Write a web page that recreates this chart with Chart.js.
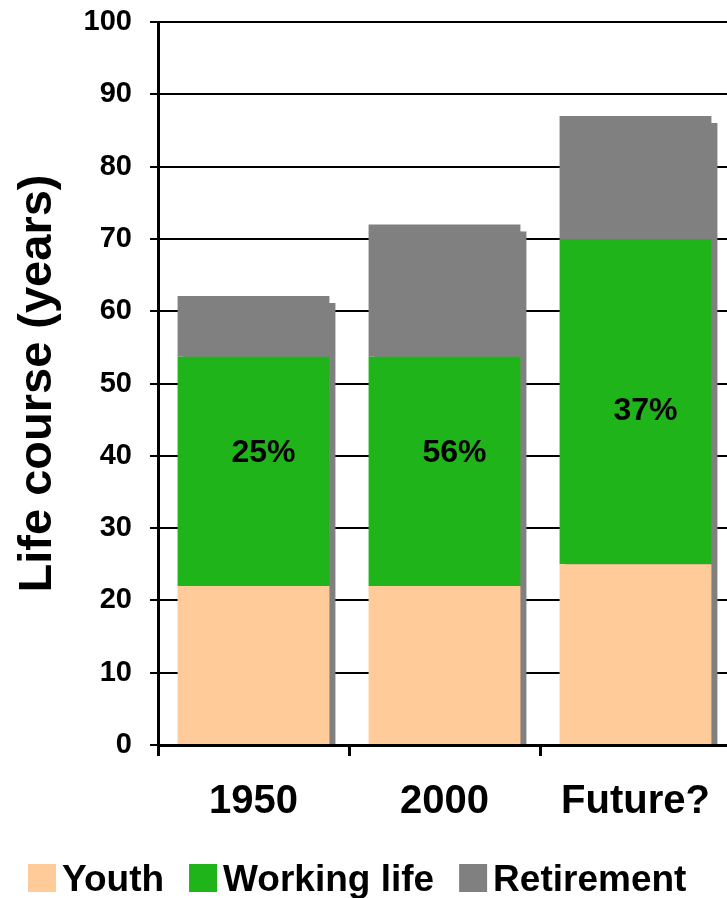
<!DOCTYPE html>
<html>
<head>
<meta charset="utf-8">
<script src="https://cdn.jsdelivr.net/npm/chart.js@4.4.1/dist/chart.umd.min.js"></script>
<style>
  html, body { margin: 0; padding: 0; background: #fff; overflow: hidden; }
  #wrap { position: relative; width: 740px; height: 898px; }
</style>
</head>
<body>
<div id="wrap"><canvas id="lifeCourse"></canvas></div>
<script>
// Life course split into youth, working life and retirement (years)
const periods = ['1950', '2000', 'Future?'];
const youthYears = [22, 22, 25];
const workingYears = [31.7, 31.7, 45];
const retirementYears = [8.4, 18.3, 17];
const retirementShare = ['25%', '56%', '37%'];
const yTicks = [0, 10, 20, 30, 40, 50, 60, 70, 80, 90, 100];

const FONT = "'Liberation Sans', Arial, Helvetica, sans-serif";

// Grey drop shadow behind each stacked column
const barShadow = {
  id: 'barShadow',
  beforeDatasetsDraw(chart, args, opts) {
    const ctx = chart.ctx;
    const topMeta = chart.getDatasetMeta(chart.data.datasets.length - 1);
    const bottomMeta = chart.getDatasetMeta(0);
    ctx.save();
    ctx.fillStyle = opts.color;
    topMeta.data.forEach((bar, i) => {
      const p = bar.getProps(['x', 'y', 'width'], true);
      const base = bottomMeta.data[i].getProps(['base'], true).base;
      const left = p.x - p.width / 2;
      ctx.fillRect(left + opts.dx, p.y + opts.dy, p.width, base - p.y - opts.dy + 3);
    });
    ctx.restore();
  }
};

// Percentage labels inside the working-life segment
const shareLabels = {
  id: 'shareLabels',
  afterDatasetsDraw(chart, args, opts) {
    const ctx = chart.ctx;
    const meta = chart.getDatasetMeta(1);
    const yScale = chart.scales.y;
    ctx.save();
    ctx.font = 'bold 32px ' + FONT;
    ctx.fillStyle = '#000';
    ctx.textAlign = 'center';
    ctx.textBaseline = 'middle';
    meta.data.forEach((bar, i) => {
      const p = bar.getProps(['x'], true);
      ctx.fillText(retirementShare[i], p.x + opts.dx, yScale.getPixelForValue(opts.levels[i]));
    });
    ctx.restore();
  }
};

// Legend row along the bottom edge
const legendRow = {
  id: 'legendRow',
  afterDraw(chart, args, opts) {
    const ctx = chart.ctx;
    ctx.save();
    ctx.font = 'bold 37px ' + FONT;
    ctx.textAlign = 'left';
    ctx.textBaseline = 'alphabetic';
    let x = opts.x;
    chart.data.datasets.forEach(ds => {
      ctx.fillStyle = ds.backgroundColor;
      ctx.fillRect(x, opts.y, opts.box, opts.box);
      ctx.fillStyle = '#000';
      ctx.fillText(ds.label, x + opts.box + opts.gap, opts.y + opts.box - 1);
      x += opts.box + opts.gap + ctx.measureText(ds.label).width + opts.spacing;
    });
    ctx.restore();
  }
};

new Chart(document.getElementById('lifeCourse'), {
  type: 'bar',
  data: {
    labels: periods,
    datasets: [
      { label: 'Youth', data: youthYears, backgroundColor: '#FFCC99' },
      { label: 'Working life', data: workingYears, backgroundColor: '#1FB41A' },
      { label: 'Retirement', data: retirementYears, backgroundColor: '#808080' }
    ]
  },
  options: {
    responsive: true,
    maintainAspectRatio: false,
    animation: false,
    devicePixelRatio: 1,
    layout: { padding: { left: 10, top: 22, right: 9, bottom: 0 } },
    datasets: {
      bar: { barPercentage: 0.795, categoryPercentage: 1, borderWidth: 0 }
    },
    plugins: {
      legend: { display: false },
      tooltip: { enabled: false },
      barShadow: { color: '#808080', dx: 6, dy: 7 },
      shareLabels: { dx: 10, levels: [40.3, 40.3, 46.2] },
      legendRow: { x: 28, y: 864, box: 28, gap: 6, spacing: 25 }
    },
    scales: {
      x: {
        stacked: true,
        afterFit: s => { s.height = 153; s.paddingLeft = 0; s.paddingRight = 0; },
        grid: {
          offset: true,
          drawOnChartArea: false,
          drawTicks: true,
          tickLength: 11,
          lineWidth: 3,
          color: '#000'
        },
        border: { display: true, color: '#000', width: 3, z: 1 },
        ticks: {
          color: '#000',
          font: { family: FONT, size: 40, weight: 'bold' },
          padding: 22,
          maxRotation: 0,
          autoSkip: false
        }
      },
      y: {
        stacked: true,
        min: 0,
        max: 100,
        afterFit: s => { s.width = 148; s.paddingTop = 0; s.paddingBottom = 0; },
        afterBuildTicks: s => { s.ticks = yTicks.map(v => ({ value: v })); },
        grid: {
          color: '#000',
          lineWidth: 2,
          drawTicks: true,
          tickLength: 8
        },
        border: { display: true, color: '#000', width: 3, z: 1 },
        ticks: {
          color: '#000',
          font: { family: FONT, size: 29, weight: 'bold' },
          padding: 18
        },
        title: {
          display: true,
          text: 'Life course (years)',
          color: '#000',
          font: { family: FONT, size: 47, weight: 'bold' },
          padding: 0
        }
      }
    }
  },
  plugins: [barShadow, shareLabels, legendRow]
});
</script>
</body>
</html>
